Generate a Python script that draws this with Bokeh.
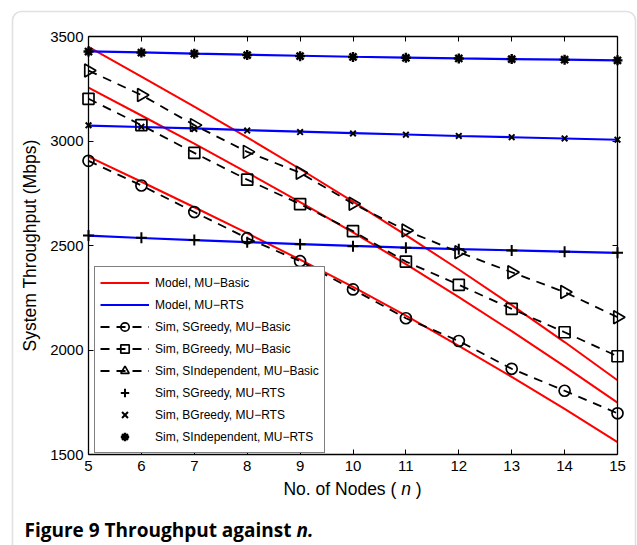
import math
from bokeh.plotting import figure
from bokeh.models import (Range1d, LinearAxis, FixedTicker, Legend, LegendItem,
                          Label, BoxAnnotation)
from bokeh.embed import file_html
from bokeh.resources import INLINE

# ---------------- data ----------------
nodes = [5, 6, 7, 8, 9, 10, 11, 12, 13, 14, 15]
y_ticks = [1500, 2000, 2500, 3000, 3500]

model_basic_sindependent = [3450, 3308, 3164, 3017, 2866, 2710, 2550, 2385, 2215, 2038, 1855]
model_basic_bgreedy = [3255, 3122, 2987, 2849, 2708, 2563, 2411, 2253, 2090, 1922, 1748]
model_basic_sgreedy = [2925, 2805, 2683, 2559, 2432, 2302, 2164, 2020, 1871, 1718, 1559]

model_rts_sindependent = [3429, 3424, 3418, 3413, 3408, 3403, 3399, 3395, 3392, 3389, 3386]
model_rts_bgreedy = [3074, 3067, 3060, 3052, 3045, 3038, 3031, 3024, 3018, 3012, 3006]
model_rts_sgreedy = [2547, 2536, 2526, 2516, 2507, 2498, 2490, 2483, 2477, 2471, 2465]

sim_sgreedy_basic = [2905, 2787, 2660, 2535, 2425, 2290, 2152, 2043, 1910, 1805, 1697]
sim_bgreedy_basic = [3202, 3076, 2943, 2815, 2698, 2569, 2423, 2312, 2197, 2085, 1970]
sim_sindependent_basic = [3337, 3220, 3076, 2948, 2848, 2700, 2572, 2468, 2372, 2277, 2157]
sim_sgreedy_rts = [2548, 2537, 2526, 2516, 2506, 2497, 2489, 2482, 2476, 2470, 2465]
sim_bgreedy_rts = [3075, 3068, 3058, 3050, 3043, 3036, 3030, 3024, 3018, 3012, 3006]
sim_sindependent_rts = [3428, 3423, 3418, 3411, 3406, 3402, 3398, 3395, 3392, 3389, 3386]

legend_labels = [
    "Model, MU\u2212Basic",
    "Model, MU\u2212RTS",
    "Sim, SGreedy, MU\u2212Basic",
    "Sim, BGreedy, MU\u2212Basic",
    "Sim, SIndependent, MU\u2212Basic",
    "Sim, SGreedy, MU\u2212RTS",
    "Sim, BGreedy, MU\u2212RTS",
    "Sim, SIndependent, MU\u2212RTS",
]
y_label = "System Throughput (Mbps)"
x_label_parts = ["No. of Nodes (", "n", ")"]
caption_parts = ["Figure 9 Throughput against", "n."]

# ---------------- layout (canvas pixels) ----------------
W, H = 637, 545
BL, BR, BT, BB = 88, 617, 36, 454      # axes box edges in canvas px
xppu = (BR - BL) / (nodes[-1] - nodes[0])
yppu = (BB - BT) / (y_ticks[-1] - y_ticks[0])
x0 = nodes[0] - BL / xppu
x1 = nodes[-1] + (W - BR) / xppu
y1 = y_ticks[-1] + BT / yppu
y0 = y_ticks[0] - (H - BB) / yppu


def sx(cx):
    return cx


def sy(cy):
    return H - cy


FONT = "Liberation Sans"

p = figure(width=W, height=H, output_backend="svg", toolbar_location=None,
           x_range=Range1d(x0, x1), y_range=Range1d(y0, y1),
           x_axis_type=None, y_axis_type=None,
           min_border=0, min_border_left=0, min_border_right=0,
           min_border_top=0, min_border_bottom=0)
p.outline_line_color = None
p.grid.visible = False
p.background_fill_color = "white"
p.border_fill_color = "white"


def style_axis(ax, labels=True):
    ax.axis_line_color = "black"
    ax.axis_line_width = 1.3
    ax.major_tick_line_color = "black"
    ax.major_tick_line_width = 1
    ax.major_tick_in = 5
    ax.major_tick_out = 0
    ax.minor_tick_line_color = None
    ax.major_label_text_font = FONT
    ax.major_label_text_font_size = "15px"
    ax.major_label_text_color = "black" if labels else None


xb = LinearAxis(ticker=FixedTicker(ticks=nodes), bounds=(nodes[0], nodes[-1]),
                fixed_location=y_ticks[0])
style_axis(xb)
xb.major_label_standoff = 6
p.add_layout(xb, "below")

xt = LinearAxis(ticker=FixedTicker(ticks=nodes), bounds=(nodes[0], nodes[-1]),
                fixed_location=y_ticks[-1])
style_axis(xt, labels=False)
p.add_layout(xt, "above")

yl = LinearAxis(ticker=FixedTicker(ticks=y_ticks), bounds=(y_ticks[0], y_ticks[-1]),
                fixed_location=nodes[0], axis_label=y_label)
style_axis(yl)
yl.major_label_standoff = 5
yl.axis_label_text_font = FONT
yl.axis_label_text_font_size = "17.5px"
yl.axis_label_text_font_style = "normal"
yl.axis_label_text_color = "black"
yl.axis_label_standoff = 7
p.add_layout(yl, "left")

yr = LinearAxis(ticker=FixedTicker(ticks=y_ticks), bounds=(y_ticks[0], y_ticks[-1]),
                fixed_location=nodes[-1])
style_axis(yr, labels=False)
p.add_layout(yr, "right")

RED = "#ff0000"
BLUE = "#0000ff"

r_red = [p.line(nodes, d, line_color=RED, line_width=2)
         for d in (model_basic_sindependent, model_basic_bgreedy, model_basic_sgreedy)]
r_blue = [p.line(nodes, d, line_color=BLUE, line_width=2.2)
          for d in (model_rts_sindependent, model_rts_bgreedy, model_rts_sgreedy)]

dash = "9 7"
l_c = p.line(nodes, sim_sgreedy_basic, line_color="black", line_width=1.8, line_dash=dash)
l_s = p.line(nodes, sim_bgreedy_basic, line_color="black", line_width=1.8, line_dash=dash)
l_t = p.line(nodes, sim_sindependent_basic, line_color="black", line_width=1.8, line_dash=dash)

m_c = p.scatter(nodes, sim_sgreedy_basic, marker="circle", size=11,
                line_color="black", fill_color=None, line_width=1.7)
m_s = p.scatter(nodes, sim_bgreedy_basic, marker="square", size=11,
                line_color="black", fill_color=None, line_width=1.7)
m_t = p.scatter(nodes, sim_sindependent_basic, marker="triangle", size=13,
                angle=-math.pi / 2, line_color="black", fill_color=None, line_width=1.7)
m_p = p.scatter(nodes, sim_sgreedy_rts, marker="cross", size=11,
                line_color="black", line_width=2)
m_x = p.scatter(nodes, sim_bgreedy_rts, marker="x", size=8,
                line_color="black", line_width=2)
m_a = p.scatter(nodes, sim_sindependent_rts, marker="asterisk", size=10,
                line_color="black", line_width=2.4)

items = [
    LegendItem(label=legend_labels[0], renderers=[r_red[0]]),
    LegendItem(label=legend_labels[1], renderers=[r_blue[0]]),
    LegendItem(label=legend_labels[2], renderers=[l_c, m_c]),
    LegendItem(label=legend_labels[3], renderers=[l_s, m_s]),
    LegendItem(label=legend_labels[4], renderers=[l_t, m_t]),
    LegendItem(label=legend_labels[5], renderers=[m_p]),
    LegendItem(label=legend_labels[6], renderers=[m_x]),
    LegendItem(label=legend_labels[7], renderers=[m_a]),
]
legend = Legend(items=items, location=(sx(94), sy(453)),
                label_text_font=FONT, label_text_font_size="12px",
                label_text_color="black",
                glyph_width=49, glyph_height=21, label_height=21,
                spacing=1, padding=5, label_standoff=6, margin=0,
                border_line_color="black", border_line_width=1.5,
                background_fill_color="white", background_fill_alpha=1)
p.add_layout(legend)

# x-axis title with italic n
xl_y = sy(488)
p.add_layout(Label(x=sx(395.8), y=xl_y, x_units="screen", y_units="screen",
                   text=x_label_parts[0], text_align="right", text_baseline="middle",
                   text_font=FONT, text_font_size="17.5px", text_color="black"))
p.add_layout(Label(x=sx(405.5), y=xl_y, x_units="screen", y_units="screen",
                   text=x_label_parts[1], text_align="center", text_baseline="middle",
                   text_font=FONT, text_font_size="17.5px", text_font_style="italic",
                   text_color="black"))
p.add_layout(Label(x=sx(415.3), y=xl_y, x_units="screen", y_units="screen",
                   text=x_label_parts[2], text_align="left", text_baseline="middle",
                   text_font=FONT, text_font_size="17.5px", text_color="black"))

# caption
cap_y = sy(529)
p.add_layout(Label(x=sx(24), y=cap_y, x_units="screen", y_units="screen",
                   text=caption_parts[0], text_align="left", text_baseline="alphabetic",
                   text_font="Open Sans", text_font_size="19px", text_font_style="bold",
                   text_color="black"))
p.add_layout(Label(x=sx(296), y=cap_y, x_units="screen", y_units="screen",
                   text=caption_parts[1], text_align="left", text_baseline="alphabetic",
                   text_font="Open Sans", text_font_size="19px", text_font_style="bold italic",
                   text_color="black"))

# outer rounded frame of the figure panel
p.add_layout(BoxAnnotation(left=sx(12), right=sx(635), top=sy(11), bottom=sy(640),
                           left_units="screen", right_units="screen",
                           top_units="screen", bottom_units="screen",
                           fill_color=None, fill_alpha=0,
                           line_color="#9a9a9a", line_width=1.6, border_radius=9))

open("out.html", "w").write(file_html(p, INLINE))
